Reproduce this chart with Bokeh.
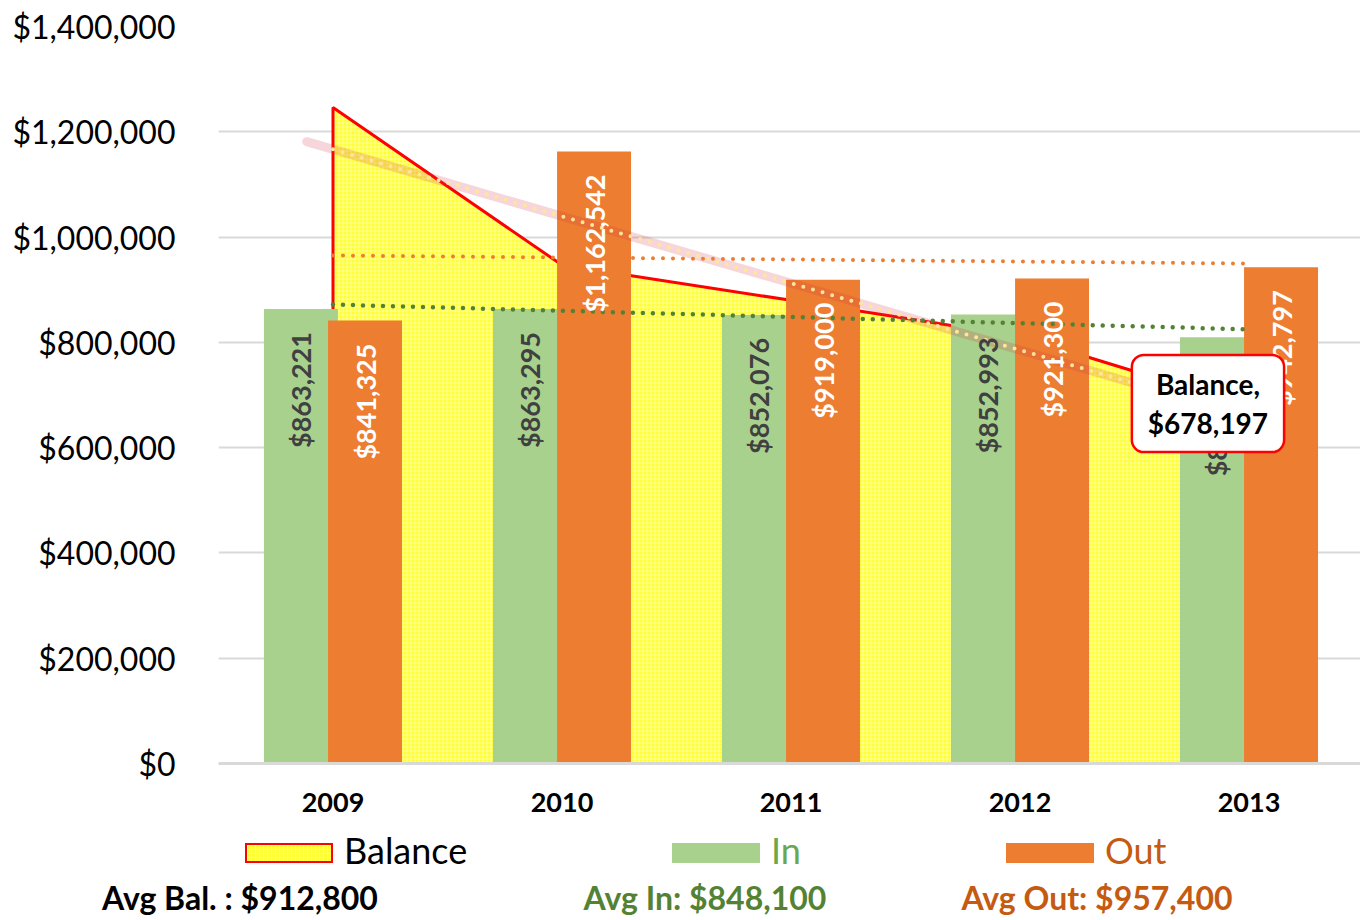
import numpy as np
from bokeh.plotting import figure
from bokeh.layouts import column
from bokeh.models import (ColumnDataSource, Range1d, FixedTicker, NumeralTickFormatter,
                          Label, Div)
from bokeh.core.properties import value
from bokeh.embed import file_html
from bokeh.resources import INLINE

# ---------------- data ----------------
years = ["2009", "2010", "2011", "2012", "2013"]
money_in = [863221, 863295, 852076, 852993, 809472]
money_out = [841325, 1162542, 919000, 921300, 942797]
balance = [1246000, 946753, 879829, 811522, 678197]
y_ticks = [0, 200000, 400000, 600000, 800000, 1000000, 1200000, 1400000]
series_names = ["Balance", "In", "Out"]
avg_bal_text = "Avg Bal. : $912,800"
avg_in_text = "Avg In: $848,100"
avg_out_text = "Avg Out: $957,400"
balance_callout = "Balance,\n$678,197"

FONT = "Lato"
GREEN = "#A9D18E"
ORANGE = "#ED7D31"
YELLOW = "#FFFF33"
RED = "#FF0000"

idx = np.arange(len(years))
OFF = 0.14
BW = 0.323

p = figure(width=1360, height=826, output_backend="svg", toolbar_location=None,
           title=None,
           x_range=Range1d(-0.5, 4.487), y_range=Range1d(0, 1400000),
           min_border_left=218, min_border_right=0, min_border_top=26,
           min_border_bottom=63)
p.outline_line_color = None
p.xgrid.grid_line_color = None
p.ygrid.grid_line_color = "#D9D9D9"
p.ygrid.grid_line_width = 2

# y axis
p.yaxis.ticker = FixedTicker(ticks=y_ticks)
p.yaxis.formatter = NumeralTickFormatter(format="$0,0")
p.yaxis.axis_line_color = None
p.yaxis.major_tick_line_color = None
p.yaxis.minor_tick_line_color = None
p.yaxis.major_tick_out = 0
p.yaxis.major_label_standoff = 43
p.yaxis.major_label_text_font = FONT
p.yaxis.major_label_text_font_size = "32px"
p.yaxis.major_label_text_color = "#000000"

# x axis
p.xaxis.ticker = FixedTicker(ticks=list(idx))
p.xaxis.major_label_overrides = {int(i): y for i, y in zip(idx, years)}
p.xaxis.axis_line_color = "#D9D9D9"
p.xaxis.axis_line_width = 3
p.xaxis.major_tick_line_color = None
p.xaxis.minor_tick_line_color = None
p.xaxis.major_tick_out = 0
p.xaxis.major_label_standoff = 29
p.xaxis.major_label_text_font = FONT
p.xaxis.major_label_text_font_style = "bold"
p.xaxis.major_label_text_font_size = "27px"
p.xaxis.major_label_text_color = "#000000"

# balance area
px = [idx[0]] + list(idx) + [idx[-1]]
py = [0] + list(balance) + [0]
p.patch(px, py, fill_color=YELLOW, line_color=RED, line_width=3,
        hatch_pattern="+", hatch_color="white", hatch_alpha=0.45,
        hatch_scale=4, hatch_weight=1)

# bars
p.vbar(x=idx - OFF, top=money_in, width=BW, fill_color=GREEN, line_color=None)
p.vbar(x=idx + OFF, top=money_out, width=BW, fill_color=ORANGE, line_color=None)

# trend lines
def trend(vals, xs):
    c = np.polyfit(idx, vals, 1)
    return np.polyval(c, xs)

glow_x = np.array([idx[0] - 0.115, idx[-1]])
p.line(glow_x, trend(balance, glow_x), line_color="#D03048", line_alpha=0.2,
       line_width=9, line_cap="round")
p.line(idx, trend(balance, idx), line_color="#FFE699", line_width=4,
       line_dash="0 10", line_cap="round")
p.line(idx, trend(money_out, idx), line_color=ORANGE, line_width=4,
       line_dash="0 10", line_cap="round")
p.line(idx, trend(money_in, idx), line_color="#548235", line_width=4.5,
       line_dash="0 10", line_cap="round")

# bar labels
src_in = ColumnDataSource(dict(x=idx - OFF, y=money_in, t=[f"${v:,}" for v in money_in]))
src_out = ColumnDataSource(dict(x=idx + OFF, y=money_out, t=[f"${v:,}" for v in money_out]))
for src, col in ((src_in, "#404040"), (src_out, "#FFFFFF")):
    p.text(x="x", y="y", text="t", source=src, angle=np.pi / 2,
           text_align="right", text_baseline="middle", y_offset=23,
           text_font=value(FONT), text_font_style="bold", text_font_size="27px",
           text_color=col)

# callout
p.add_layout(Label(x=idx[-1], y=balance[-1], x_offset=-41, y_offset=3,
                   text=balance_callout, text_align="center", text_baseline="middle",
                   text_font=FONT, text_font_style="bold", text_font_size="28px",
                   text_line_height=1.15,
                   text_color="#000000", background_fill_color="white",
                   border_line_color=RED, border_line_width=2.5,
                   padding=dict(left=16, right=16, top=12, bottom=12),
                   border_radius=12))

# ---------------- bottom strip: legend + averages ----------------
swatch_common = ("position:absolute;top:17px;width:88px;height:20px;"
                 "box-sizing:border-box;")
hatch_bg = ("background-color:#FFFF33;"
            "background-image:linear-gradient(rgba(255,255,255,0.45) 1px, transparent 1px),"
            "linear-gradient(90deg, rgba(255,255,255,0.45) 1px, transparent 1px);"
            "background-size:4px 4px;border:2.5px solid #FF0000;")
lab_common = ("position:absolute;top:3px;font-size:36px;line-height:1.2;"
              "white-space:nowrap;font-family:Lato;")
avg_common = ("position:absolute;top:53px;font-size:32px;font-weight:bold;line-height:1.2;"
              "white-space:nowrap;font-family:Lato;transform:translateX(-50%);")

legend_spec = [
    (series_names[0], 245, hatch_bg, "#000000"),
    (series_names[1], 672, f"background:{GREEN};", "#6AA84F"),
    (series_names[2], 1006, f"background:{ORANGE};", "#C55A11"),
]
avg_spec = [(avg_bal_text, 240, "#000000"),
            (avg_in_text, 705, "#548235"),
            (avg_out_text, 1097, "#C55A11")]

parts = []
for name, left, bg, col in legend_spec:
    parts.append(f'<div style="{swatch_common}left:{left}px;{bg}"></div>')
    parts.append(f'<span style="{lab_common}left:{left + 99}px;color:{col};">{name}</span>')
for txt, cx, col in avg_spec:
    parts.append(f'<span style="{avg_common}left:{cx}px;color:{col};">{txt}</span>')

html = ('<div style="position:relative;width:1360px;height:94px;'
        'background:white;">' + "".join(parts) + "</div>")
strip = Div(text=html, width=1360, height=94, margin=(0, 0, 0, 0))

layout = column(p, strip, spacing=0)
open("out.html", "w").write(file_html(layout, INLINE))
